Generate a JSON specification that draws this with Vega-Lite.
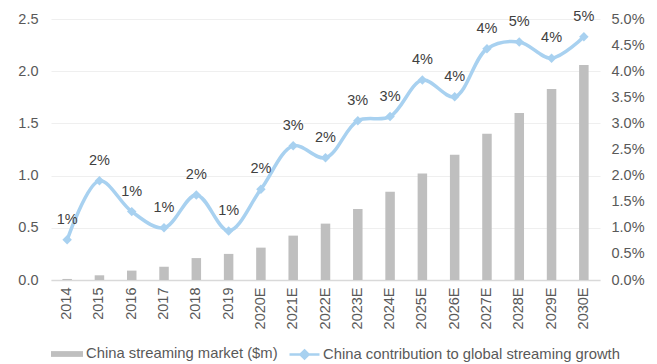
{
  "$schema": "https://vega.github.io/schema/vega-lite/v6.json",
  "width": 657,
  "height": 364,
  "autosize": {"type": "fit", "contains": "padding"},
  "padding": {"left": 17, "right": 12, "top": 11, "bottom": 0},
  "config": {
    "view": {"stroke": null},
    "font": "Liberation Sans",
    "axis": {"labelFont": "Liberation Sans", "labelFontSize": 14.5, "labelColor": "#595959", "grid": false, "ticks": false, "domain": false},
    "legend": {"labelFont": "Liberation Sans", "labelFontSize": 14.8, "labelColor": "#595959", "labelLimit": 0, "offset": 9}
  },
  "data": {"values": [
    {"year": "2014", "market": 0.01, "share": 0.0077},
    {"year": "2015", "market": 0.045, "share": 0.019},
    {"year": "2016", "market": 0.09, "share": 0.0131},
    {"year": "2017", "market": 0.127, "share": 0.0100},
    {"year": "2018", "market": 0.21, "share": 0.0163},
    {"year": "2019", "market": 0.25, "share": 0.0094},
    {"year": "2020E", "market": 0.31, "share": 0.0174},
    {"year": "2021E", "market": 0.425, "share": 0.0257},
    {"year": "2022E", "market": 0.54, "share": 0.0234},
    {"year": "2023E", "market": 0.68, "share": 0.0305},
    {"year": "2024E", "market": 0.846, "share": 0.0313},
    {"year": "2025E", "market": 1.02, "share": 0.0383},
    {"year": "2026E", "market": 1.20, "share": 0.0351},
    {"year": "2027E", "market": 1.40, "share": 0.0443},
    {"year": "2028E", "market": 1.60, "share": 0.0456},
    {"year": "2029E", "market": 1.83, "share": 0.0425},
    {"year": "2030E", "market": 2.06, "share": 0.0466}
  ]},
  "encoding": {
    "x": {"field": "year", "type": "ordinal", "sort": null, "title": null,
      "scale": {"paddingInner": 0.72, "paddingOuter": 0.36},
      "axis": {"labelAngle": -90, "labelAlign": "right", "labelBaseline": "middle", "labelPadding": 7, "domain": true, "domainColor": "#D9D9D9", "domainWidth": 1.5}}
  },
  "layer": [
    {
      "mark": {"type": "bar", "width": 9.5},
      "encoding": {
        "y": {"field": "market", "type": "quantitative", "title": null,
          "scale": {"domain": [0, 2.5], "nice": false},
          "axis": {"orient": "left", "values": [0, 0.5, 1, 1.5, 2, 2.5], "format": ".1f", "grid": true, "gridColor": "#EFEFEF", "labelPadding": 13}},
        "fill": {"datum": "China streaming market ($m)", "type": "nominal",
          "scale": {"range": ["#BFBFBF"]},
          "legend": {"title": null, "orient": "bottom", "symbolType": "M-1,-0.18H1V0.18H-1Z", "symbolSize": 1024, "symbolStrokeWidth": 0, "labelOffset": 3}}
      }
    },
    {
      "encoding": {
        "y": {"field": "share", "type": "quantitative", "title": null,
          "scale": {"domain": [0, 0.05], "nice": false},
          "axis": {"orient": "right", "values": [0, 0.005, 0.01, 0.015, 0.02, 0.025, 0.03, 0.035, 0.04, 0.045, 0.05], "format": ".1%", "labelPadding": 11}}
      },
      "layer": [
        {
          "mark": {"type": "line", "interpolate": "catmull-rom", "strokeWidth": 3.5},
          "encoding": {
            "stroke": {"datum": "China contribution to global streaming growth", "type": "nominal",
              "scale": {"range": ["#A8D1F0"]},
              "legend": {"title": null, "orient": "bottom", "symbolType": "M-1,0H1M0,-0.27L0.27,0L0,0.27L-0.27,0Z", "symbolSize": 900, "symbolStrokeWidth": 2.5, "symbolFillColor": "#A8D1F0", "symbolOffset": 2, "labelOffset": 2}}
          }
        },
        {
          "mark": {"type": "point", "shape": "diamond", "filled": true, "size": 90, "color": "#A8D1F0", "opacity": 1}
        },
        {
          "mark": {"type": "text", "baseline": "middle", "dy": -20, "fontSize": 14.5, "color": "#404040", "font": "Liberation Sans"},
          "encoding": {"text": {"field": "share", "type": "quantitative", "format": ".0%"}}
        }
      ]
    }
  ],
  "resolve": {"scale": {"y": "independent", "fill": "independent", "stroke": "independent"}}
}
